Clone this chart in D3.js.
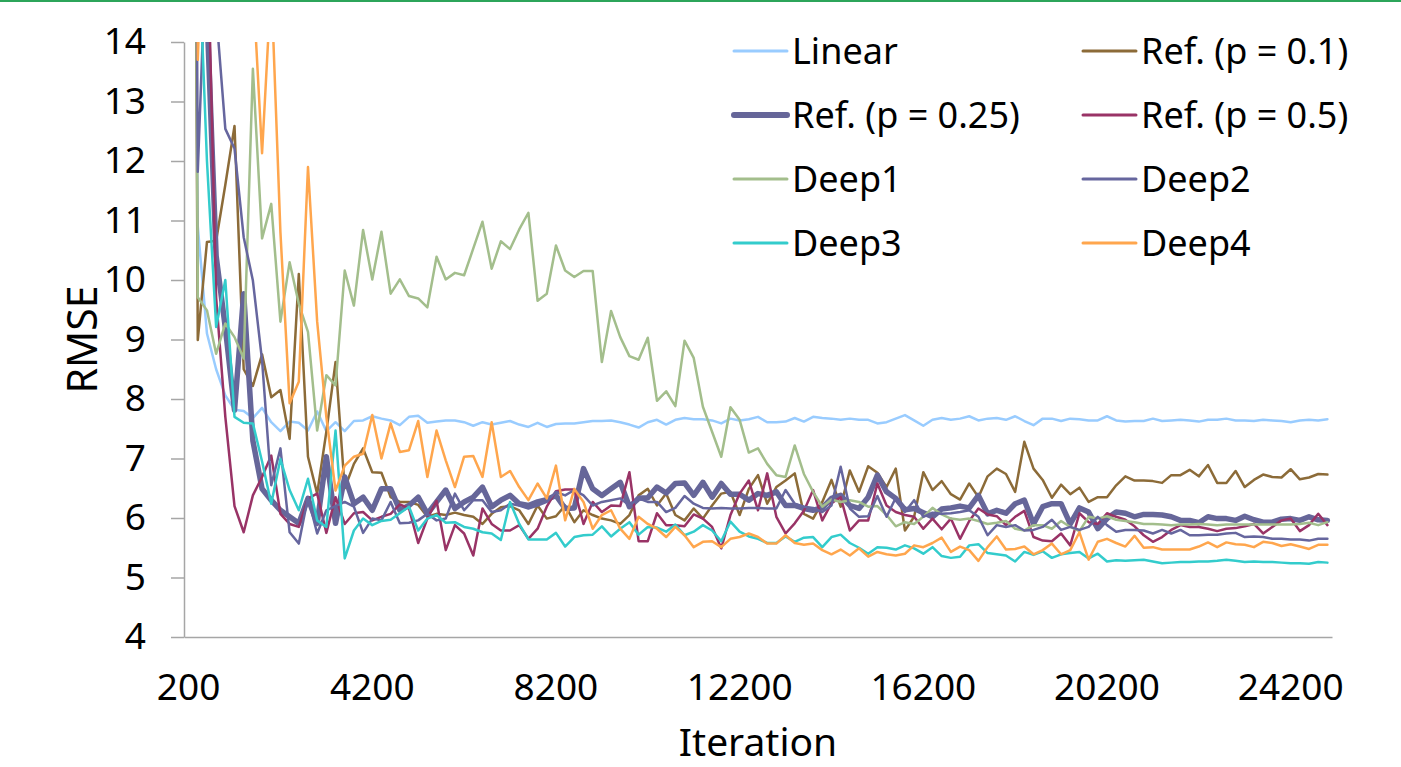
<!DOCTYPE html>
<html>
<head>
<meta charset="utf-8">
<script src="https://cdn.jsdelivr.net/npm/d3@7"></script>
<style>
  body { margin: 0; background: #fff; }
  text { font-family: "Noto Sans", "Open Sans", sans-serif; fill: #000; }
</style>
</head>
<body>
<div id="chart"></div>
<script>
// iterations 200 .. 25000, step 200 (category axis)
var iterations = d3.range(200, 25001, 200);
var tickLabels = ["200", "4200", "8200", "12200", "16200", "20200", "24200"];

var linear = [30, 10.9, 9.1, 8.5, 8.06, 7.82, 7.8, 7.68, 7.85, 7.61,
  7.46, 7.62, 7.6, 7.47, 7.79, 7.46, 7.61, 7.46, 7.63, 7.64,
  7.71, 7.67, 7.64, 7.56, 7.7, 7.72, 7.6, 7.62, 7.64, 7.64,
  7.61, 7.55, 7.61, 7.57, 7.6, 7.63, 7.57, 7.53, 7.6, 7.53,
  7.58, 7.59, 7.59, 7.61, 7.63, 7.63, 7.64, 7.61, 7.57, 7.52,
  7.61, 7.65, 7.57, 7.65, 7.68, 7.66, 7.66, 7.64, 7.59, 7.67,
  7.64, 7.66, 7.7, 7.61, 7.61, 7.62, 7.68, 7.62, 7.7, 7.68,
  7.67, 7.65, 7.67, 7.65, 7.65, 7.59, 7.61, 7.67, 7.73, 7.64,
  7.55, 7.65, 7.68, 7.65, 7.67, 7.71, 7.64, 7.67, 7.68, 7.65,
  7.71, 7.63, 7.56, 7.67, 7.67, 7.63, 7.67, 7.66, 7.64, 7.64,
  7.71, 7.64, 7.62, 7.63, 7.63, 7.67, 7.63, 7.64, 7.65, 7.64,
  7.62, 7.65, 7.65, 7.67, 7.64, 7.64, 7.63, 7.65, 7.64, 7.63,
  7.61, 7.64, 7.65, 7.64, 7.66];

var ref01 = [40, 8.99, 10.64, 10.66, 11.6, 12.59, 8.5, 8.22, 8.75, 8.03,
  8.15, 7.33, 10.1, 7.03, 6.41, 7.45, 8.62, 6.5, 6.91, 7.17,
  6.77, 6.76, 6.35, 6.27, 6.27, 6.22, 6.02, 6.07, 6.05, 6.09,
  6.05, 6.02, 5.9, 6.07, 6.18, 6.2, 6.13, 5.9, 6.21, 5.99,
  6.03, 6.21, 5.93, 6.13, 6.05, 5.99, 5.96, 5.9, 6.05, 6.38,
  6.49, 6.21, 6.41, 6.05, 5.96, 6.16, 5.99, 6.21, 6.41, 6.44,
  6.05, 6.49, 6.72, 6.24, 6.52, 6.63, 6.75, 6.07, 5.99, 6.27,
  6.64, 6.19, 6.8, 6.44, 6.87, 6.76, 6.52, 6.83, 5.79, 6.02,
  6.77, 6.47, 6.62, 6.4, 6.31, 6.58, 6.35, 6.7, 6.83, 6.74,
  6.44, 7.28, 6.83, 6.64, 6.34, 6.56, 6.4, 6.51, 6.27, 6.35,
  6.35, 6.55, 6.7, 6.63, 6.63, 6.62, 6.59, 6.72, 6.72, 6.81,
  6.7, 6.89, 6.59, 6.59, 6.79, 6.52, 6.64, 6.73, 6.69, 6.68,
  6.82, 6.65, 6.68, 6.74, 6.73];

var ref025 = [40, 17, 14.5, 10.4, 9.2, 7.81, 9.77, 7.3, 6.49, 6.3,
  6.13, 6.02, 5.91, 6.33, 5.91, 7.03, 5.91, 6.69, 6.24, 6.35,
  6.13, 6.49, 6.49, 6.13, 6.21, 6.35, 6.07, 6.27, 6.47, 6.16,
  6.27, 6.35, 6.52, 6.19, 6.3, 6.38, 6.24, 6.21, 6.27, 6.31,
  6.38, 6.16, 6.17, 6.83, 6.49, 6.38, 6.49, 6.6, 6.19, 6.33,
  6.34, 6.52, 6.42, 6.58, 6.59, 6.38, 6.6, 6.35, 6.58, 6.4,
  6.4, 6.3, 6.41, 6.38, 6.44, 6.21, 6.21, 6.16, 6.13, 6.17,
  6.33, 6.38, 6.21, 6.16, 6.35, 6.72, 6.44, 6.33, 6.14, 6.16,
  6.09, 6.02, 6.15, 6.17, 6.2, 6.17, 6.38, 6.07, 6.13, 6.08,
  6.24, 6.3, 5.9, 6.19, 6.24, 6.24, 5.9, 6.17, 6.1, 5.82,
  5.99, 6.1, 6.08, 6.02, 6.06, 6.06, 6.05, 6.02, 5.96, 5.96,
  5.92, 6.02, 5.99, 5.99, 5.96, 6.03, 5.97, 5.93, 5.93, 5.98,
  5.99, 5.96, 6.02, 5.97, 5.96];

var ref05 = [40, 20, 16.2, 9.7, 7.7, 6.2, 5.76, 6.38, 6.69, 7.05,
  6.07, 5.9, 5.85, 6.33, 6.41, 5.75, 6.35, 5.9, 6.08, 6.1,
  5.96, 6.02, 6.07, 6.23, 6.16, 5.58, 5.99, 6.29, 5.46, 5.88,
  5.74, 5.37, 6.16, 5.9, 5.79, 5.79, 5.88, 5.65, 5.82, 6.19,
  6.45, 6.48, 6.48, 5.9, 6.27, 6.1, 6.21, 6.2, 6.77, 5.61,
  5.61, 6.08, 5.88, 5.88, 5.86, 6.06, 5.99, 5.85, 5.49, 6.05,
  6.41, 6.63, 6.13, 6.75, 6.02, 5.74, 5.91, 6.12, 6.47, 5.96,
  6.25, 6.35, 5.79, 5.96, 5.96, 6.58, 6.21, 6.1, 6.05, 6.02,
  5.82, 5.99, 5.81, 5.99, 5.65, 5.95, 6.16, 6.06, 6.03, 5.88,
  6.02, 6.12, 5.68, 5.62, 5.61, 5.74, 5.54, 6.08, 5.93, 5.9,
  6.08, 6.02, 5.97, 5.86, 5.71, 5.6, 5.68, 5.8, 5.88, 5.85,
  5.85, 5.82, 5.78, 5.82, 5.83, 5.86, 5.9, 5.74, 5.85, 5.96,
  5.99, 5.78, 5.88, 6.07, 5.88];

var deep1 = [40, 9.71, 9.49, 8.76, 9.27, 9.04, 8.68, 13.55, 10.7, 11.28,
  9.3, 10.3, 9.6, 9.13, 7.47, 8.4, 8.23, 10.16, 9.57, 10.84,
  10.01, 10.81, 9.77, 10.01, 9.73, 9.69, 9.54, 10.39, 10.01, 10.12,
  10.08, 10.53, 10.98, 10.19, 10.65, 10.52, 10.85, 11.13, 9.65, 9.77,
  10.58, 10.16, 10.05, 10.15, 10.15, 8.62, 9.48, 9.04, 8.72, 8.66,
  9.03, 7.97, 8.13, 7.88, 8.98, 8.69, 7.87, 7.45, 7.03, 7.86,
  7.65, 7.1, 7.17, 6.91, 6.72, 6.69, 7.22, 6.74, 6.44, 6.19,
  6.31, 6.27, 6.3, 6.27, 6.19, 6.2, 6.05, 5.86, 5.93, 5.9,
  6.02, 6.17, 6.06, 5.99, 5.97, 5.99, 5.95, 5.9, 5.92, 5.95,
  5.82, 5.79, 5.88, 5.88, 5.82, 5.95, 5.85, 5.78, 6.02, 5.99,
  6.03, 5.97, 5.95, 5.93, 5.9, 5.9, 5.89, 5.88, 5.89, 5.89,
  5.9, 5.89, 5.88, 5.89, 5.89, 5.89, 5.89, 5.89, 5.89, 5.89,
  5.89, 5.9, 5.92, 5.88, 5.93];

var deep2 = [40, 11.82, 16, 14.5, 12.54, 12.21, 10.72, 9.99, 8.65, 6.55,
  7.17, 5.76, 5.57, 6.35, 5.74, 6.13, 6.2, 6.27, 6.19, 5.75,
  5.99, 5.96, 6.27, 5.91, 5.92, 5.96, 6.07, 5.96, 5.99, 6.41,
  6.13, 6.3, 6.3, 6.1, 6.13, 6.24, 6.21, 6.16, 6.21, 6.27,
  6.44, 6.38, 6.47, 6.38, 6.21, 6.27, 6.3, 6.33, 6.21, 6.33,
  6.27, 6.27, 6.1, 6.17, 6.37, 6.24, 6.17, 6.16, 6.17, 6.16,
  6.16, 6.17, 6.17, 6.16, 6.16, 6.47, 6.24, 6.19, 6.17, 6.1,
  6.21, 6.86, 6.16, 6.02, 6.03, 6.37, 6.02, 6.34, 6.1, 6.3,
  6.02, 6.09, 6.07, 6.08, 6.1, 6.13, 6.02, 5.71, 5.88, 5.85,
  5.88, 5.79, 5.8, 5.85, 5.97, 5.8, 5.85, 5.8, 5.85, 6.02,
  5.88, 5.77, 5.8, 5.8, 5.79, 5.74, 5.8, 5.74, 5.8, 5.71,
  5.71, 5.72, 5.72, 5.74, 5.75, 5.68, 5.69, 5.68, 5.65, 5.65,
  5.64, 5.64, 5.62, 5.65, 5.65];

var deep3 = [40, 16, 12.0, 9.21, 10.0, 7.7, 7.6, 7.59, 6.95, 6.24,
  6.99, 6.47, 6.13, 6.66, 5.96, 5.85, 7.47, 5.32, 5.79, 5.99,
  5.88, 5.95, 5.97, 6.08, 6.19, 5.79, 5.99, 6.05, 5.92, 5.93,
  5.85, 5.82, 5.76, 5.74, 5.63, 6.27, 5.9, 5.64, 5.64, 5.64,
  5.75, 5.52, 5.68, 5.71, 5.72, 5.86, 5.69, 5.82, 5.93, 5.72,
  5.85, 5.84, 5.77, 5.89, 5.71, 5.77, 5.88, 5.79, 5.61, 5.94,
  5.77, 5.69, 5.65, 5.58, 5.58, 5.69, 5.6, 5.67, 5.68, 5.51,
  5.68, 5.72, 5.58, 5.5, 5.4, 5.51, 5.5, 5.47, 5.54, 5.49,
  5.4, 5.51, 5.36, 5.33, 5.35, 5.54, 5.56, 5.41, 5.39, 5.37,
  5.27, 5.43, 5.38, 5.44, 5.33, 5.39, 5.41, 5.43, 5.32, 5.4,
  5.27, 5.29, 5.28, 5.29, 5.3, 5.27, 5.24, 5.25, 5.26, 5.26,
  5.27, 5.27, 5.28, 5.3, 5.28, 5.26, 5.27, 5.26, 5.26, 5.25,
  5.24, 5.24, 5.23, 5.26, 5.25];

var deep4 = [40, 13.7, 18, 20, 19, 18, 17, 15, 12.13, 15,
  10.8, 7.93, 8.29, 11.9, 9.3, 7.7, 6.46, 6.88, 7.03, 7.08,
  7.73, 7.0, 7.59, 7.11, 7.14, 7.63, 6.69, 7.47, 6.97, 6.52,
  7.03, 7.04, 6.69, 7.61, 6.69, 6.79, 6.52, 6.3, 6.58, 6.33,
  6.88, 5.96, 6.49, 6.27, 5.82, 6.05, 6.13, 5.82, 5.65, 6.02,
  5.9, 5.82, 5.68, 5.85, 5.71, 5.51, 5.6, 5.61, 5.51, 5.65,
  5.68, 5.74, 5.68, 5.57, 5.57, 5.71, 5.58, 5.55, 5.57, 5.46,
  5.39, 5.47, 5.37, 5.49, 5.35, 5.43, 5.39, 5.37, 5.4, 5.54,
  5.51, 5.58, 5.67, 5.43, 5.52, 5.46, 5.28, 5.51, 5.69, 5.47,
  5.48, 5.52, 5.39, 5.46, 5.57, 5.39, 5.46, 5.76, 5.3, 5.6,
  5.65, 5.58, 5.52, 5.7, 5.5, 5.51, 5.47, 5.47, 5.47, 5.47,
  5.52, 5.59, 5.51, 5.59, 5.56, 5.55, 5.51, 5.6, 5.58, 5.53,
  5.56, 5.52, 5.48, 5.55, 5.55];

var series = [
  {name: "Linear", values: linear, color: "#99ccff", width: 2.5},
  {name: "Ref. (p = 0.1)", values: ref01, color: "#8c6b38", width: 2.5},
  {name: "Ref. (p = 0.25)", values: ref025, color: "#666699", width: 5.5},
  {name: "Ref. (p = 0.5)", values: ref05, color: "#993366", width: 2.5},
  {name: "Deep1", values: deep1, color: "#a3be8c", width: 2.5},
  {name: "Deep2", values: deep2, color: "#66669e", width: 2.5},
  {name: "Deep3", values: deep3, color: "#33cccc", width: 2.5},
  {name: "Deep4", values: deep4, color: "#ffa64d", width: 2.5}
];

var W = 1401, H = 767;
var plot = {left: 184, right: 1332, top: 42, bottom: 637};

var svg = d3.select("#chart").append("svg")
  .attr("width", W)
  .attr("height", H);

svg.append("rect")
  .attr("x", 0).attr("y", 0)
  .attr("width", W).attr("height", 2)
  .attr("fill", "#2ca55a");

var x = d3.scaleBand()
  .domain(iterations)
  .range([plot.left, plot.right])
  .padding(0);

var y = d3.scaleLinear()
  .domain([4, 14])
  .range([plot.bottom, plot.top]);

svg.append("defs").append("clipPath")
  .attr("id", "plotClip")
  .append("rect")
  .attr("x", plot.left)
  .attr("y", plot.top)
  .attr("width", plot.right - plot.left)
  .attr("height", plot.bottom - plot.top);

// axes
var yAxis = d3.axisLeft(y)
  .tickValues(d3.range(4, 15, 1))
  .tickSizeInner(13)
  .tickSizeOuter(0)
  .tickPadding(25)
  .tickFormat(d3.format("d"));

var gy = svg.append("g")
  .attr("transform", "translate(" + plot.left + ",0)")
  .call(yAxis);
gy.selectAll("text").style("font-size", "37px");

var xAxis = d3.axisBottom(x)
  .tickValues(iterations.filter(function(d) { return tickLabels.indexOf(String(d)) >= 0; }))
  .tickSize(0)
  .tickPadding(37);

var gx = svg.append("g")
  .attr("transform", "translate(0," + plot.bottom + ")")
  .call(xAxis);
gx.selectAll("text").style("font-size", "37px");

svg.selectAll(".domain, .tick line")
  .attr("stroke", "#a6a6a6")
  .attr("stroke-width", 1.5);

// series lines
var line = d3.line()
  .x(function(d, i) { return x(iterations[i]) + x.bandwidth() / 2; })
  .y(function(d) { return y(d); });

var lines = svg.append("g").attr("clip-path", "url(#plotClip)");
lines.selectAll("path")
  .data(series)
  .enter().append("path")
  .attr("d", function(s) { return line(s.values); })
  .attr("fill", "none")
  .attr("stroke", function(s) { return s.color; })
  .attr("stroke-width", function(s) { return s.width; })
  .attr("stroke-linejoin", "round")
  .attr("stroke-linecap", "round");

// axis titles
svg.append("text")
  .attr("x", (plot.left + plot.right) / 2)
  .attr("y", 756)
  .attr("text-anchor", "middle")
  .style("font-size", "39px")
  .text("Iteration");

svg.append("text")
  .attr("transform", "translate(97," + (plot.top + plot.bottom) / 2 + ") rotate(-90)")
  .attr("text-anchor", "middle")
  .style("font-size", "41px")
  .text("RMSE");

// legend, two columns
var legend = svg.append("g");
var item = legend.selectAll("g")
  .data(series)
  .enter().append("g")
  .attr("transform", function(s, i) {
    var col = i % 2, row = Math.floor(i / 2);
    return "translate(" + (col ? 1083 : 734) + "," + (51 + row * 64) + ")";
  });

item.append("line")
  .attr("x1", 0).attr("x2", 53)
  .attr("y1", 0).attr("y2", 0)
  .attr("stroke", function(s) { return s.color; })
  .attr("stroke-width", function(s) { return s.width + 0.5; })
  .attr("stroke-linecap", "round");

item.append("text")
  .attr("x", 58)
  .attr("y", 13)
  .style("font-size", "36px")
  .text(function(s) { return s.name; });
</script>
</body>
</html>
